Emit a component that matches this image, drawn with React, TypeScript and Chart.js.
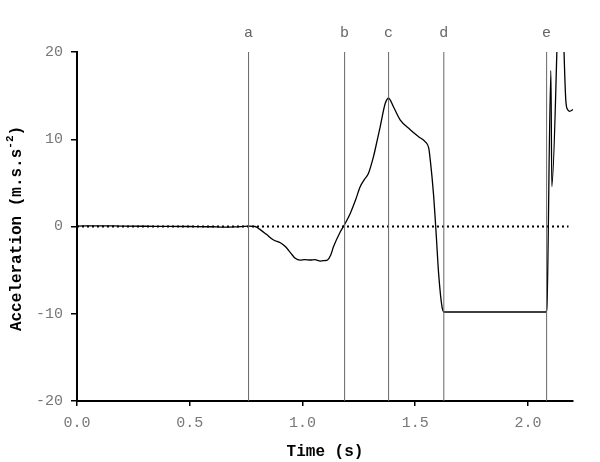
import React, { useEffect, useRef } from "react";
import { Chart, registerables } from "chart.js";

Chart.register(...registerables);

const times = [0, 0.1, 0.2, 0.3, 0.4, 0.5, 0.6, 0.65, 0.7, 0.76, 0.79, 0.81, 0.84, 0.872, 0.902, 0.924, 0.95, 0.968, 0.99, 1.01, 1.035, 1.055, 1.079, 1.1, 1.111, 1.125, 1.138, 1.168, 1.19, 1.212, 1.235, 1.256, 1.275, 1.293, 1.315, 1.33, 1.345, 1.367, 1.382, 1.404, 1.434, 1.478, 1.515, 1.545, 1.56, 1.567, 1.581, 1.593, 1.604, 1.619, 1.629, 1.7, 1.8, 1.9, 2.0, 2.08, 2.084, 2.102, 2.106, 2.145, 2.168, 2.176, 2.185, 2.2];
const accel = [0.05, 0.08, 0.05, 0.03, 0.02, 0.0, -0.03, -0.08, -0.05, 0.05, 0.0, -0.3, -0.9, -1.55, -1.86, -2.3, -3.1, -3.65, -3.85, -3.8, -3.84, -3.8, -3.96, -3.9, -3.84, -3.3, -2.3, -0.6, 0.37, 1.5, 3.0, 4.56, 5.4, 6.1, 8.0, 9.7, 11.45, 14.1, 14.7, 13.7, 12.2, 11.1, 10.3, 9.7, 9.0, 7.6, 3.8, -0.8, -5.4, -9.2, -9.8, -9.8, -9.8, -9.8, -9.8, -9.8, -9.4, 17.9, 4.56, 30, 14.5, 13.4, 13.2, 13.4];

const eventTimes = [0.761, 1.187, 1.382, 1.627, 2.083];
const eventLabels = ["a", "b", "c", "d", "e"];

const xTicks = [0, 0.5, 1.0, 1.5, 2.0];
const yTicks = [-20, -10, 0, 10, 20];
const zeroLineEnd = 2.18;

const xTitle = "Time (s)";
const yTitleMain = "Acceleration (m.s.s";
const yTitleSup = "-2";
const yTitleEnd = ")";

const MONO = "'Liberation Mono', 'DejaVu Sans Mono', monospace";

const overlayPlugin = {
  id: "overlay",
  afterDraw(chart: any) {
    const ctx = chart.ctx;
    const xs = chart.scales.x;
    const area = chart.chartArea;
    ctx.save();
    // event labels
    ctx.fillStyle = "#666";
    ctx.font = `15px ${MONO}`;
    ctx.textAlign = "center";
    ctx.textBaseline = "middle";
    eventTimes.forEach((t, i) => {
      ctx.fillText(eventLabels[i], xs.getPixelForValue(t), area.top - 19);
    });
    // x title
    ctx.fillStyle = "#000";
    ctx.font = `bold 16px ${MONO}`;
    ctx.fillText(xTitle, (area.left + area.right) / 2, 452);
    // y title with superscript
    const mainW = ctx.measureText(yTitleMain).width;
    ctx.font = `bold 11px ${MONO}`;
    const supW = ctx.measureText(yTitleSup).width;
    ctx.font = `bold 16px ${MONO}`;
    const endW = ctx.measureText(yTitleEnd).width;
    const total = mainW + supW + endW;
    ctx.translate(17, (area.top + area.bottom) / 2 + 2);
    ctx.rotate(-Math.PI / 2);
    ctx.textAlign = "left";
    let x = -total / 2;
    ctx.fillText(yTitleMain, x, 0);
    x += mainW;
    ctx.font = `bold 11px ${MONO}`;
    ctx.fillText(yTitleSup, x, -7);
    x += supW;
    ctx.font = `bold 16px ${MONO}`;
    ctx.fillText(yTitleEnd, x, 0);
    ctx.restore();
  },
};

export default function App() {
  const ref = useRef<HTMLCanvasElement>(null);
  useEffect(() => {
    if (!ref.current) return;
    const eventSets = eventTimes.map((t) => ({
      data: [
        { x: t, y: yTicks[0] },
        { x: t, y: yTicks[yTicks.length - 1] },
      ],
      borderColor: "#666",
      borderWidth: 1,
      pointRadius: 0,
      tension: 0,
    }));
    const chart = new Chart(ref.current, {
      type: "line",
      data: {
        datasets: [
          ...eventSets,
          {
            data: [
              { x: 0, y: 0 },
              { x: zeroLineEnd, y: 0 },
            ],
            borderColor: "#000",
            borderWidth: 2,
            borderDash: [2, 3],
            pointRadius: 0,
          },
          {
            data: times.map((t, i) => ({ x: t, y: accel[i] })),
            borderColor: "#000",
            borderWidth: 1.3,
            pointRadius: 0,
            cubicInterpolationMode: "monotone",
          },
        ] as any,
      },
      options: {
        animation: false,
        responsive: false,
        layout: { padding: { left: 0, top: 52, right: 27, bottom: 0 } },
        plugins: { legend: { display: false }, tooltip: { enabled: false } },
        scales: {
          x: {
            type: "linear",
            min: 0,
            max: 2.2,
            afterBuildTicks: (s: any) => {
              s.ticks = xTicks.map((v) => ({ value: v }));
            },
            afterFit: (s: any) => {
              s.height = 61;
            },
            border: { display: true, color: "#000", width: 2 },
            grid: { drawOnChartArea: false, drawTicks: true, tickLength: 5, color: "#000", lineWidth: 1.5 },
            ticks: {
              padding: 8,
              color: "#777",
              font: { family: MONO, size: 15 },
              maxRotation: 0,
              callback: (v: any) => Number(v).toFixed(1),
            },
          },
          y: {
            type: "linear",
            min: -20,
            max: 20,
            afterBuildTicks: (s: any) => {
              s.ticks = yTicks.map((v) => ({ value: v }));
            },
            afterFit: (s: any) => {
              s.width = 77;
            },
            border: { display: true, color: "#000", width: 2 },
            grid: { drawOnChartArea: false, drawTicks: true, tickLength: 6, color: "#000", lineWidth: 1.5 },
            ticks: {
              padding: 8,
              color: "#777",
              font: { family: MONO, size: 15 },
              callback: (v: any) => String(v),
            },
          },
        },
      },
      plugins: [overlayPlugin],
    });
    return () => chart.destroy();
  }, []);
  return (
    <div style={{ position: "fixed", left: 0, top: 0, width: 600, height: 462, background: "#fff" }}>
      <canvas ref={ref} width={600} height={462} />
    </div>
  );
}
